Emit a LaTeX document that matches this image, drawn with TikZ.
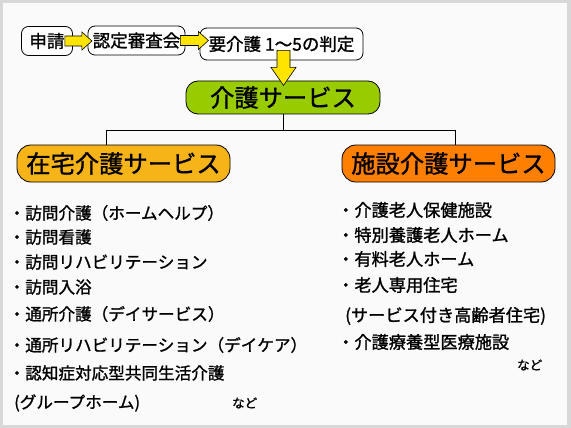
\documentclass[tikz,border=0pt]{standalone}
\usepackage{fontspec}
\setmainfont{Noto Sans CJK JP}[FakeBold=1.2]
\usetikzlibrary{calc}

\definecolor{framegray}{RGB}{216,216,216}
\definecolor{paper}{RGB}{250,250,250}
\definecolor{caregreen}{RGB}{153,204,0}
\definecolor{homeorange}{RGB}{246,180,24}
\definecolor{facilityorange}{RGB}{255,128,0}
\definecolor{arrowyellow}{RGB}{255,228,0}

\tikzset{
  stepbox/.style={draw, fill=white, line width=0.8pt, rounded corners=7pt, inner sep=0pt, font=\fontsize{17.5}{20}\selectfont},
  headbox/.style={draw, line width=0.8pt, rounded corners=14pt, inner sep=0pt, font=\fontsize{24.3}{28}\selectfont},
  blockarrow/.style={draw, fill=arrowyellow, line width=0.6pt, line join=miter},
  listitem/.style={anchor=west, inner sep=0pt, font=\fontsize{16.6}{19}\selectfont},
  facitem/.style={listitem, font=\fontsize{17.2}{20}\selectfont},
  etc/.style={anchor=west, inner sep=0pt, font=\fontsize{12.5}{14}\selectfont},
}

\begin{document}
\begin{tikzpicture}[x=1pt, y=-1pt]
    \useasboundingbox (0,0) rectangle (571,428);

    % Frame
    \fill[framegray] (0,0) rectangle (571,428);
    \fill[paper] (3,3) rectangle (567,425);

    % Steps
    \node[stepbox, minimum width=51pt, minimum height=29pt] (apply) at (47,41) {申請};
    \node[stepbox, minimum width=97pt, minimum height=29pt] (review) at (136.5,40.5) {認定審査会};
    \node[stepbox, minimum width=163pt, minimum height=32pt] (judge) at (281.5,44) {要介護 1〜5の判定};

    % Services
    \node[headbox, fill=caregreen, rounded corners=12pt, minimum width=194pt, minimum height=33pt] (care) at (283,97.5) {介護サービス};
    \node[headbox, fill=homeorange, minimum width=213pt, minimum height=37pt] (home) at (123.5,163.5) {在宅介護サービス};
    \node[headbox, fill=facilityorange, minimum width=213pt, minimum height=37pt] (facility) at (448.5,163.5) {施設介護サービス};

    % Arrows
    \draw[blockarrow] ($(apply.east)+(-8,-5)$) -- ++(17,0) -- ++(0,-4) -- ++(10,9) -- ++(-10,9) -- ++(0,-4) -- ++(-17,0) -- cycle;
    \draw[blockarrow] ($(review.east)+(-5,-5)$) -- ++(18,0) -- ++(0,-4) -- ++(10,9) -- ++(-10,9) -- ++(0,-4) -- ++(-18,0) -- cycle;
    \draw[blockarrow] ($(judge.south)+(-4.5,-10)$) -- ++(13,0) -- ++(0,17) -- ++(6,0) -- ++(-12.5,18) -- ++(-12.5,-18) -- ++(6,0) -- cycle;

    % Tree
    \draw[line width=0.8pt] (care.south) -- ++(0,16) coordinate (split);
    \draw[line width=0.8pt] ([xshift=-17.5pt]home.north) |- (split) -| ([xshift=6.5pt]facility.north);

    % Home services
    \node[listitem] (home1) at (8.5,213) {・訪問介護（ホームヘルプ）};
    \node[listitem] (home2) at (8.5,237) {・訪問看護};
    \node[listitem] (home3) at (8.5,262) {・訪問リハビリテーション};
    \node[listitem] (home4) at (8.5,287) {・訪問入浴};
    \node[listitem] (home5) at (8.5,314) {・通所介護（デイサービス）};
    \node[listitem] (home6) at (8.5,345) {・通所リハビリテーション（デイケア）};
    \node[listitem] (home7) at (8.5,373) {・認知症対応型共同生活介護};
    \node[listitem] (home8) at (14,403) {(グループホーム)};
    \node[etc] (homeetc) at (232,403) {など};

    % Facility services
    \node[facitem] (fac1) at (337,210) {・介護老人保健施設};
    \node[facitem] (fac2) at (337,235) {・特別養護老人ホーム};
    \node[facitem] (fac3) at (337,259) {・有料老人ホーム};
    \node[facitem] (fac4) at (337,285) {・老人専用住宅};
    \node[facitem] (fac5) at (345,316) {(サービス付き高齢者住宅)};
    \node[facitem] (fac6) at (337,342) {・介護療養型医療施設};
    \node[etc] (facetc) at (517,365) {など};
\end{tikzpicture}
\end{document}
